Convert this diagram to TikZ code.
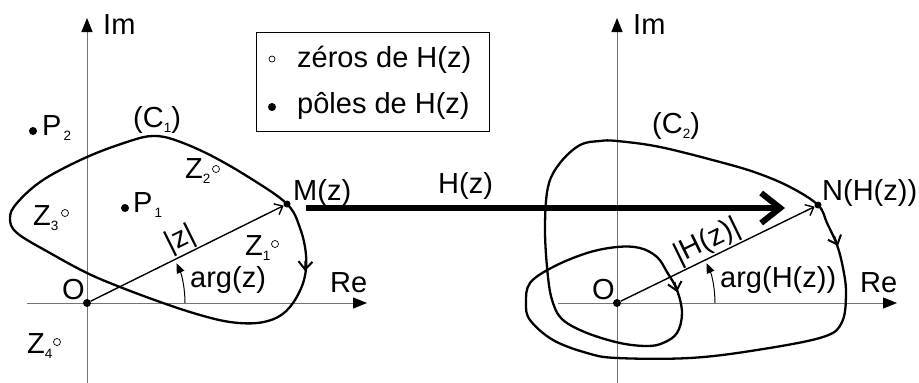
\documentclass[tikz,border=0pt]{standalone}
\usepackage{fontspec}
\setmainfont{Liberation Sans}
\usetikzlibrary{arrows.meta}
\newcommand{\lsub}[1]{\raisebox{-5pt}{\fontsize{13.5}{13.5}\selectfont #1}}
\begin{document}
\begin{tikzpicture}[x=1pt,y=1pt,
 lbl/.style={anchor=base west, inner sep=0pt, font=\fontsize{29}{31}\selectfont},
 pole/.style={circle, fill=black, inner sep=0pt, minimum size=8pt},
 zero/.style={circle, draw=black, fill=white, line width=0.7pt, inner sep=0pt, minimum size=7pt},
 axis/.style={line width=1pt, draw=black!55, -{Triangle[length=14pt,width=11pt,color=black]}},
 curve/.style={line width=2.3pt, line join=round},
 vec/.style={line width=1.4pt, -{Straight Barb[length=7pt,width=12pt]}},
 barb/.style={line width=2pt, -{Straight Barb[length=8pt,width=14pt]}},
 argarc/.style={line width=1pt, -{Triangle[length=10pt,width=8pt]}},
 big/.style={line width=6pt, -{Straight Barb[length=19pt,width=30pt]}}
]
\useasboundingbox (0,0) rectangle (919,-383);

% ---- left plane axes
\coordinate (lyb) at (87,-383);
\coordinate (lyt) at (87,-18);
\coordinate (lxl) at (27,-303);
\coordinate (lxr) at (367,-303);
\draw[axis] (lyb) -- (lyt);
\draw[axis] (lxl) -- (lxr);
\node[lbl] (im1) at (103,-34) {Im};
\node[lbl] (re1) at (330,-292) {Re};

% ---- right plane axes
\coordinate (ryb) at (617,-383);
\coordinate (ryt) at (617,-18);
\coordinate (rxl) at (558,-303);
\coordinate (rxr) at (897,-303);
\draw[axis] (ryb) -- (ryt);
\draw[axis] (rxl) -- (rxr);
\node[lbl] (im2) at (633,-34) {Im};
\node[lbl] (re2) at (860,-292) {Re};

% ---- curve C1
\draw[curve] plot[smooth cycle, tension=0.6] coordinates {
 (287,-204) (300,-228) (306,-255) (304,-280) (293,-303) (278,-317) (257,-323)
 (230,-322) (200,-315) (163,-303) (120,-287) (87,-273) (50,-253) (17,-233)
 (10,-218) (17,-203) (43,-180) (87,-157) (130,-141) (153,-136) (175,-140)
 (210,-155) (250,-178)};
\draw[barb] (305.5,-261) -- (305,-271);
\node[lbl] (c1) at (133,-127) {(C\lsub{1})};

% ---- curve C2
\draw[curve] plot[smooth cycle, tension=0.6] coordinates {
 (818,-205) (827,-223) (837,-245) (843,-268) (846,-293) (842,-322) (823,-337)
 (757,-350) (690,-358) (617,-358) (587,-353) (553,-340) (530,-320) (526,-303)
 (530,-283) (553,-267) (587,-253) (617,-247) (640,-248) (657,-257) (667,-272)
 (677,-290) (682,-313) (677,-333) (663,-343) (647,-346) (620,-343) (587,-333)
 (563,-320) (553,-303) (548,-277) (545,-230) (548,-187) (560,-163) (580,-145)
 (600,-141) (617,-141) (660,-147) (720,-162) (757,-173) (790,-187)};
\draw[barb] (834,-236) -- (838,-246);
\draw[barb] (674.5,-282) -- (677,-292);
\node[lbl] (c2) at (652,-133) {(C\lsub{2})};

% ---- points
\node[pole] (O1) at (87,-303) {};
\node[pole, minimum size=7pt] (M) at (287,-204) {};
\node[pole] (O2) at (617,-303) {};
\node[pole, minimum size=7pt] (N) at (818,-205) {};
\node[lbl] (lo1) at (62,-299) {O};
\node[lbl] (lo2) at (592,-299) {O};
\node[lbl] (lm) at (293,-200) {M(z)};
\node[lbl] (ln) at (822,-200) {N(H(z))};

% poles and zeros
\node[pole] (P2) at (33,-131) {};
\node[lbl] (lp2) at (42,-135) {P\kern2pt\lsub{2}};
\node[pole] (P1) at (125,-208) {};
\node[lbl] (lp1) at (133,-212) {P\kern2pt\lsub{1}};
\node[zero] (Z2) at (216,-169) {};
\node[lbl] (lz2) at (185,-178) {Z\lsub{2}};
\node[zero] (Z3) at (65,-213) {};
\node[lbl] (lz3) at (33,-225) {Z\lsub{3}};
\node[zero] (Z1) at (275,-244) {};
\node[lbl] (lz1) at (245,-255) {Z\lsub{1}};
\node[zero] (Z4) at (57,-342) {};
\node[lbl] (lz4) at (27,-353) {Z\lsub{4}};

% ---- vectors and arguments
\draw[vec] (O1) -- (M) node[sloped, above, pos=0.5, inner sep=1pt, font=\fontsize{29}{31}\selectfont] (lmod1) {|z|};
\draw[argarc] (185,-303) arc[start angle=0, end angle=24, radius=98];
\node[lbl] (larg1) at (190,-287) {arg(z)};

\draw[vec] (O2) -- (N) node[sloped, above, pos=0.48, inner sep=1pt, font=\fontsize{29}{31}\selectfont] (lmod2) {|H(z)|};
\draw[argarc] (715,-303) arc[start angle=0, end angle=24, radius=98];
\node[lbl] (larg2) at (720,-287) {arg(H(z))};

% ---- mapping arrow
\coordinate (hs) at (306,-208);
\coordinate (he) at (785,-208);
\draw[big] (hs) -- (he);
\node[lbl] (lh) at (438,-193) {H(z)};

% ---- legend
\node[draw, line width=1pt, inner sep=0pt, minimum width=233pt, minimum height=99pt, anchor=north west] (legend) at (256,-32) {};
\node[zero, minimum size=6pt] (kz) at (272,-59) {};
\node[lbl] (lkz) at (297,-67) {zéros de H(z)};
\node[pole] (kp) at (272,-107) {};
\node[lbl] (lkp) at (297,-113) {pôles de H(z)};
\end{tikzpicture}
\end{document}
